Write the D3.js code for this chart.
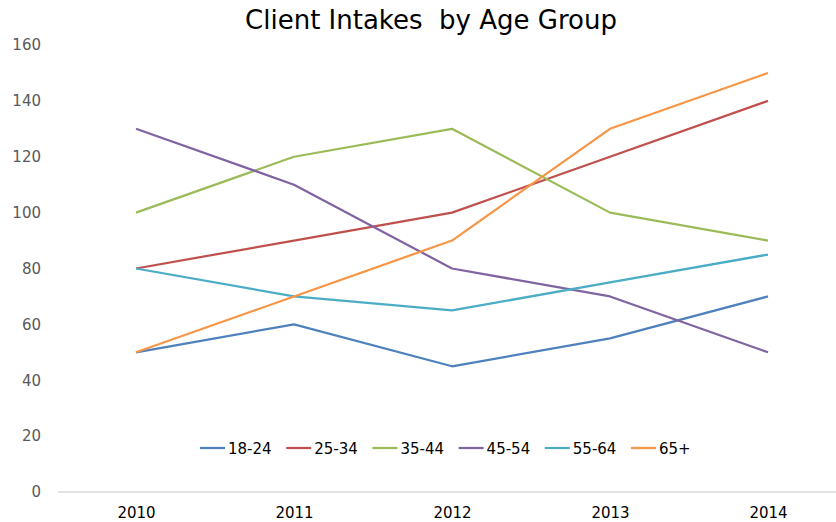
<!DOCTYPE html>
<html>
<head>
<meta charset="utf-8">
<script src="https://cdn.jsdelivr.net/npm/d3@7"></script>
<style>
  body { margin: 0; background: #fff; }
  text { font-family: "DejaVu Sans", sans-serif; }
</style>
</head>
<body>
<script>
var years = ["2010", "2011", "2012", "2013", "2014"]
var groups = ["18-24", "25-34", "35-44", "45-54", "55-64", "65+"]
var colors = ["#4f81bd", "#c0504d", "#9bbb59", "#8064a2", "#4bacc6", "#f79646"]
var age18_24 = [50, 60, 45, 55, 70]
var age25_34 = [80, 90, 100, 120, 140]
var age35_44 = [100, 120, 130, 100, 90]
var age45_54 = [130, 110, 80, 70, 50]
var age55_64 = [80, 70, 65, 75, 85]
var age65 = [50, 70, 90, 130, 150]
var yTicks = [0, 20, 40, 60, 80, 100, 120, 140, 160]

var series = [age18_24, age25_34, age35_44, age45_54, age55_64, age65]

var svg = d3.select("body")
  .append("svg")
  .attr("width", 836)
  .attr("height", 522)

var x = d3.scalePoint().domain(years).range([136, 768])
var y = d3.scaleLinear().domain([0, 160]).range([492, 45])

// title
svg.append("text")
  .attr("x", 431)
  .attr("y", 29)
  .attr("text-anchor", "middle")
  .attr("font-size", "26px")
  .attr("fill", "#000")
  .style("white-space", "pre")
  .text("Client Intakes  by Age Group")

// y axis labels
var yAxis = d3.axisLeft(y).tickValues(yTicks).tickSize(0).tickPadding(0)
svg.append("g")
  .attr("transform", "translate(41,0)")
  .call(yAxis)
  .call(function(g) { g.select(".domain").remove() })
  .selectAll("text")
  .attr("font-family", "DejaVu Sans, sans-serif")
  .attr("font-size", "15px")
  .attr("fill", "#595959")

// baseline
svg.append("line")
  .attr("x1", 58).attr("x2", 836)
  .attr("y1", y(0)).attr("y2", y(0))
  .attr("stroke", "#d9d9d9")
  .attr("stroke-width", 1.5)

// x axis labels
var xAxis = d3.axisBottom(x).tickSize(0).tickPadding(0)
svg.append("g")
  .attr("transform", "translate(0,507)")
  .call(xAxis)
  .call(function(g) { g.select(".domain").remove() })
  .selectAll("text")
  .attr("font-family", "DejaVu Sans, sans-serif")
  .attr("font-size", "15px")
  .attr("fill", "#000")

// lines
var line = d3.line()
  .x(function(d, i) { return x(years[i]) })
  .y(function(d) { return y(d) })

svg.selectAll("path.series")
  .data(series).enter()
  .append("path")
  .attr("class", "series")
  .attr("d", line)
  .attr("fill", "none")
  .attr("stroke", function(d, i) { return colors[i] })
  .attr("stroke-width", 2.25)
  .attr("stroke-linejoin", "round")

// legend
var legend = svg.selectAll("g.legend")
  .data(groups).enter()
  .append("g")
  .attr("class", "legend")
  .attr("transform", function(d, i) { return "translate(" + (200 + i * 86.2) + ",448)" })

legend.append("line")
  .attr("x1", 0).attr("x2", 25)
  .attr("stroke", function(d, i) { return colors[i] })
  .attr("stroke-width", 2.25)

legend.append("text")
  .attr("x", 28)
  .attr("y", 5.5)
  .attr("font-size", "15px")
  .attr("fill", "#000")
  .text(function(d) { return d })
</script>
</body>
</html>
